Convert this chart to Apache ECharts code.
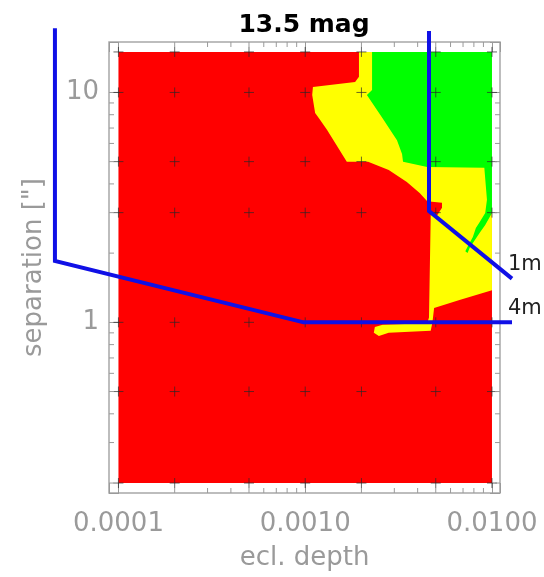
<!DOCTYPE html>
<html>
<head>
<meta charset="utf-8">
<script src="https://cdn.jsdelivr.net/npm/echarts@6/dist/echarts.min.js"></script>
<style>
  html, body { margin: 0; padding: 0; background: #fff; }
  #chart { width: 544px; height: 577px; }
</style>
</head>
<body>
<div id="chart"></div>
<script>
// axis ranges (ecl. depth, separation in arcsec)
var depthRange = [8.9e-5, 1.104e-2];
var sepRange = [0.181, 16.57];

var minorDepths = [2e-4, 3e-4, 4e-4, 5e-4, 6e-4, 7e-4, 8e-4, 9e-4,
                   2e-3, 3e-3, 4e-3, 5e-3, 6e-3, 7e-3, 8e-3, 9e-3];
var minorSeps = [0.2, 0.3, 0.4, 0.5, 0.6, 0.7, 0.8, 0.9, 2, 3, 4, 5, 6, 7, 8, 9];

// grid of simulated points (+ marks)
var gridDepths = [0.0001, 0.0002, 0.0005, 0.001, 0.002, 0.005, 0.01];
var gridSeps = [0.2, 0.5, 1, 3, 5, 10, 15];

// contour zones
var mapBox = [[0.0001, 0.2], [0.01, 0.2], [0.01, 15], [0.0001, 15]];
var yellowZone = [
  [0.00194, 15], [0.01, 15], [0.01, 1.38], [0.0067, 1.25], [0.0049, 1.155],
  [0.0048, 1.0], [0.0047, 0.92], [0.0028, 0.90], [0.00248, 0.873], [0.00233, 0.90],
  [0.00236, 0.955], [0.0026, 0.975], [0.0045, 0.99], [0.0046, 1.05], [0.0047, 2.93],
  [0.0051, 2.93], [0.0054, 3.15], [0.0054, 3.31], [0.0045, 3.36], [0.0041, 3.65],
  [0.0035, 4.08], [0.0028, 4.6], [0.00217, 4.99], [0.00167, 4.99], [0.00131, 6.87],
  [0.0012, 7.6], [0.00113, 8.14], [0.00109, 9.75], [0.0011, 10.56], [0.00185, 11.1],
  [0.00194, 11.7]
];
var greenZone = [
  [0.00228, 15], [0.01, 15], [0.01, 2.99], [0.0092, 2.65], [0.0086, 2.45],
  [0.0081, 2.28], [0.0076, 2.11], [0.0074, 2.0], [0.0072, 2.04], [0.0074, 2.13],
  [0.0079, 2.35], [0.0082, 2.57], [0.0086, 2.73], [0.0092, 2.99], [0.0094, 3.41],
  [0.0091, 4.7], [0.0045, 4.74], [0.00334, 4.99], [0.0033, 5.4], [0.0031, 6.2],
  [0.0026, 7.7], [0.00214, 9.75], [0.00228, 10.25]
];

// limits
var limit1m = [[0.0046, 18.5], [0.0046, 3.05], [0.0128, 1.55]];
var limit4m = [[4.57e-5, 19], [4.57e-5, 1.85], [0.00098, 1.0], [0.0128, 1.0]];
var limitNames = ['1m', '4m'];

var chart = echarts.init(document.getElementById('chart'));

function isDecade(v) {
  var l = Math.log10(v);
  return Math.abs(l - Math.round(l)) < 1e-6;
}

function zone(points, color) {
  return {
    type: 'custom',
    coordinateSystem: 'cartesian2d',
    silent: true,
    z: 1,
    data: [points[0]],
    renderItem: function (params, api) {
      return {
        type: 'polygon',
        shape: { points: points.map(function (p) { return api.coord(p); }) },
        style: { fill: color }
      };
    }
  };
}

function limitLine(points, name) {
  return {
    name: name,
    type: 'custom',
    coordinateSystem: 'cartesian2d',
    silent: true,
    clip: false,
    z: 5,
    data: [points[points.length - 1]],
    renderItem: function (params, api) {
      var pts = points.map(function (p) { return api.coord(p); });
      var end = pts[pts.length - 1];
      return {
        type: 'group',
        children: [{
          type: 'polyline',
          shape: { points: pts },
          style: { stroke: '#1010e6', lineWidth: 4, fill: null, lineJoin: 'miter' }
        }, {
          type: 'text',
          x: end[0] - 4, y: end[1] - 14,
          style: {
            text: name, textAlign: 'left', textVerticalAlign: 'middle',
            font: '21px "DejaVu Sans"', fill: '#222'
          }
        }]
      };
    }
  };
}

var gridPoints = [];
gridDepths.forEach(function (d) {
  gridSeps.forEach(function (s) { gridPoints.push([d, s]); });
});

var tickColor = '#9a9a9a';
var labelFont = { fontFamily: 'DejaVu Sans', fontSize: 26, color: '#9a9a9a' };

function axisCommon(extra) {
  var a = {
    type: 'log',
    logBase: 10,
    axisLine: { show: false },
    axisTick: { show: true, inside: true, length: 10, lineStyle: { color: tickColor, width: 1 } },
    splitLine: { show: false },
    minorTick: { show: false },
    axisLabel: { show: false }
  };
  for (var k in extra) a[k] = extra[k];
  return a;
}

var option = {
  animation: false,
  backgroundColor: '#fff',
  grid: {
    left: 109, top: 42, right: 44, bottom: 84,
    show: true, borderColor: '#a8a8a8', borderWidth: 1.5,
    outerBoundsMode: 'none'
  },
  graphic: [{
    type: 'text',
    x: 304, y: 25,
    style: {
      text: '13.5 mag', textAlign: 'center', textVerticalAlign: 'middle',
      font: 'bold 25px "DejaVu Sans"', fill: '#000'
    }
  }],
  xAxis: [
    axisCommon({
      min: depthRange[0], max: depthRange[1], position: 'bottom',
      name: 'ecl. depth', nameLocation: 'middle', nameGap: 52,
      nameTextStyle: labelFont,
      axisLabel: {
        show: true, margin: 18, fontFamily: 'DejaVu Sans', fontSize: 26, color: '#9a9a9a',
        formatter: function (v) { return isDecade(v) ? v.toFixed(4) : ''; }
      }
    }),
    axisCommon({ min: depthRange[0], max: depthRange[1], position: 'top' })
  ],
  yAxis: [
    axisCommon({
      min: sepRange[0], max: sepRange[1], position: 'left',
      name: 'separation ["]', nameLocation: 'middle', nameGap: 62,
      nameTextStyle: labelFont,
      axisLabel: {
        show: true, margin: 10, fontFamily: 'DejaVu Sans', fontSize: 26, color: '#9a9a9a',
        formatter: function (v) { return isDecade(v) ? String(Math.round(v)) : ''; }
      }
    }),
    axisCommon({ min: sepRange[0], max: sepRange[1], position: 'right' })
  ],
  series: [
    zone(mapBox, '#ff0000'),
    zone(yellowZone, '#ffff00'),
    zone(greenZone, '#00ff00'),
    {
      type: 'custom',
      silent: true,
      z: 3,
      data: gridPoints,
      renderItem: function (params, api) {
        var p = api.coord([api.value(0), api.value(1)]);
        var a = 5;
        var st = { stroke: 'rgba(40,40,40,0.7)', lineWidth: 1 };
        return {
          type: 'group',
          children: [
            { type: 'line', shape: { x1: p[0] - a, y1: p[1], x2: p[0] + a, y2: p[1] }, style: st },
            { type: 'line', shape: { x1: p[0], y1: p[1] - a, x2: p[0], y2: p[1] + a }, style: st }
          ]
        };
      }
    },
    {
      // minor ticks on bottom and top
      type: 'custom',
      silent: true,
      z: 3,
      data: minorDepths.map(function (d) { return [d, sepRange[0]]; }),
      renderItem: function (params, api) {
        var b = api.coord([api.value(0), sepRange[0]]);
        var t = api.coord([api.value(0), sepRange[1]]);
        var st = { stroke: tickColor, lineWidth: 1 };
        return {
          type: 'group',
          children: [
            { type: 'line', shape: { x1: b[0], y1: b[1], x2: b[0], y2: b[1] - 5 }, style: st },
            { type: 'line', shape: { x1: t[0], y1: t[1], x2: t[0], y2: t[1] + 5 }, style: st }
          ]
        };
      }
    },
    {
      // minor ticks on left and right
      type: 'custom',
      silent: true,
      z: 3,
      data: minorSeps.map(function (s) { return [depthRange[0], s]; }),
      renderItem: function (params, api) {
        var l = api.coord([depthRange[0], api.value(1)]);
        var r = api.coord([depthRange[1], api.value(1)]);
        var st = { stroke: tickColor, lineWidth: 1 };
        return {
          type: 'group',
          children: [
            { type: 'line', shape: { x1: l[0], y1: l[1], x2: l[0] + 5, y2: l[1] }, style: st },
            { type: 'line', shape: { x1: r[0], y1: r[1], x2: r[0] - 5, y2: r[1] }, style: st }
          ]
        };
      }
    },
    limitLine(limit1m, limitNames[0]),
    limitLine(limit4m, limitNames[1])
  ]
};

chart.setOption(option);
</script>
</body>
</html>
